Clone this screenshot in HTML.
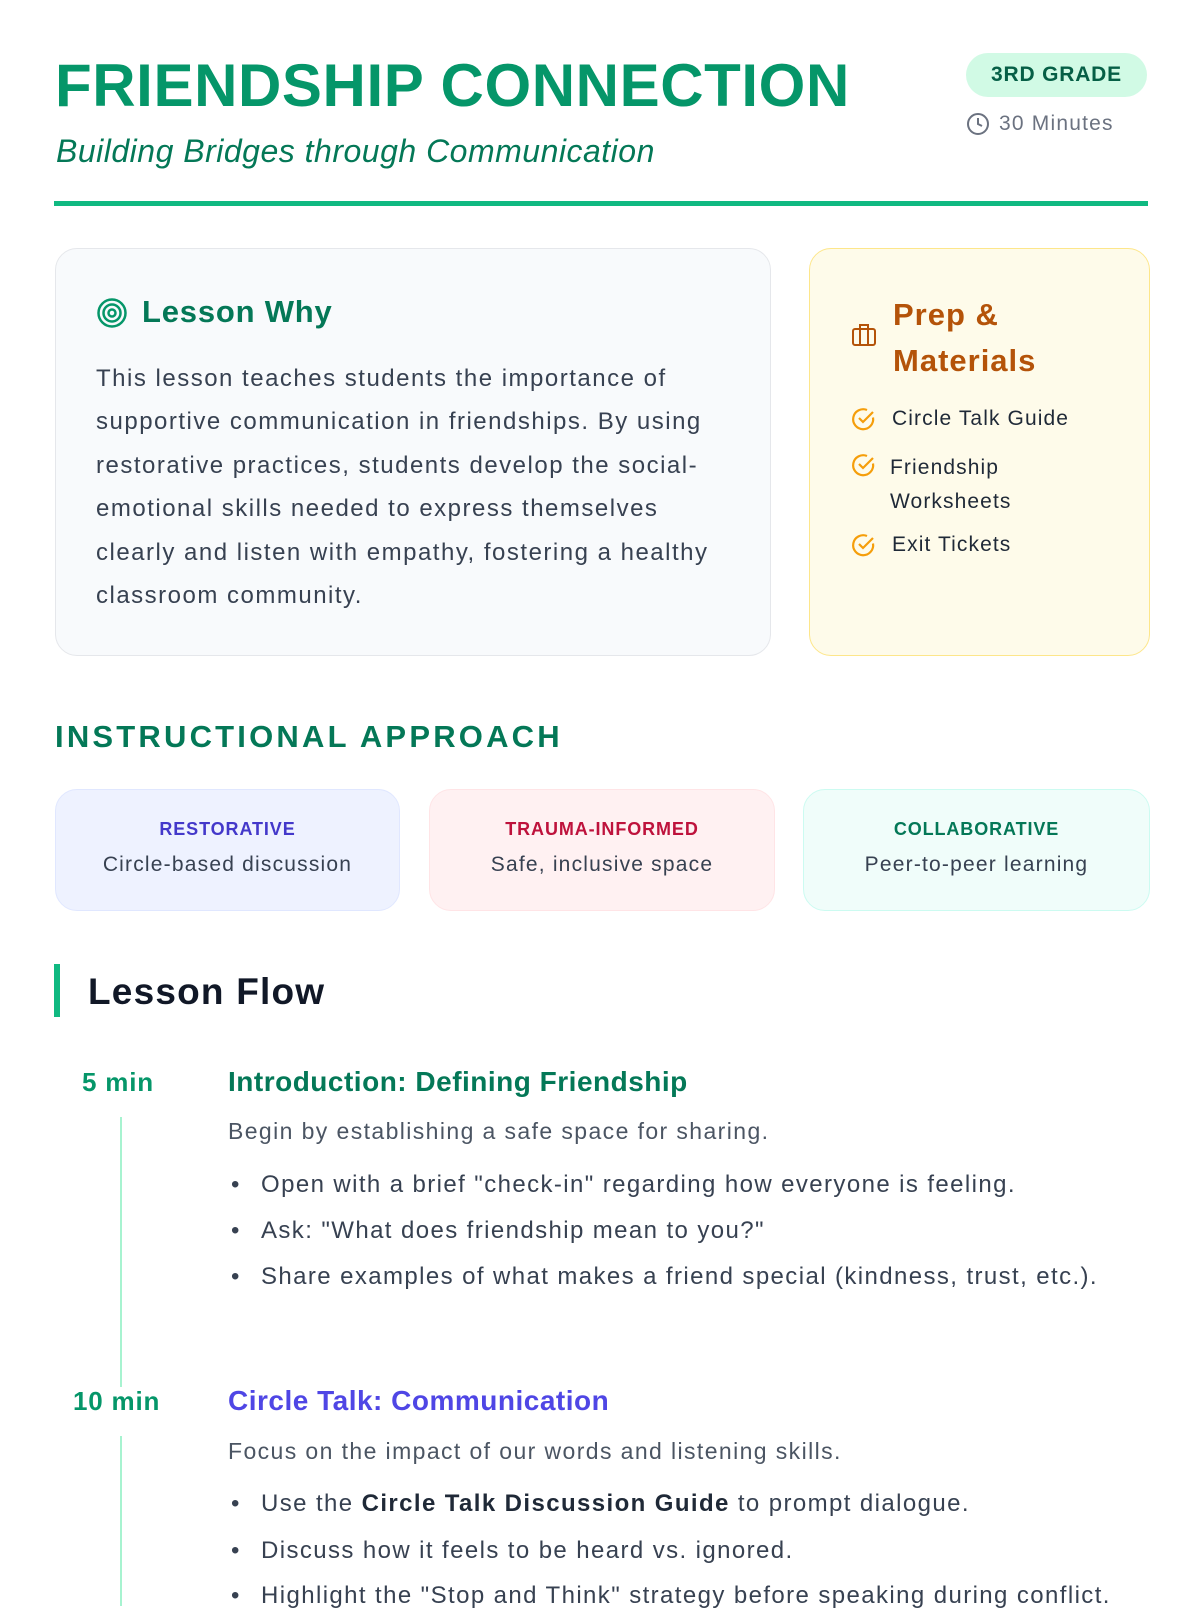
<!DOCTYPE html>
<html><head><meta charset="utf-8"><style>
*{margin:0;padding:0;box-sizing:border-box}
body{width:1200px;height:1600px;background:#fff;position:relative;overflow:hidden;font-family:"Liberation Sans",sans-serif;color:#1f2937}
.a{position:absolute;white-space:nowrap}
.card{position:absolute;border-radius:22px}
.b{letter-spacing:1.4px}
</style></head><body>
<div class="a" style="left:55px;top:55px;font-size:60px;line-height:62px;font-weight:bold;color:#059669;letter-spacing:0.6px">FRIENDSHIP CONNECTION</div>
<div class="a" style="left:56px;top:132px;font-size:32px;line-height:38px;font-style:italic;color:#047857;letter-spacing:0.5px">Building Bridges through Communication</div>
<div class="a" style="left:966px;top:53px;width:181px;height:44px;border-radius:22px;background:#d1fae5;color:#065f46;font-size:21px;font-weight:bold;line-height:44px;text-align:center;letter-spacing:0.8px">3RD GRADE</div>
<svg class="a" style="left:966px;top:112px" width="24" height="24" viewBox="0 0 24 24" fill="none" stroke="#6b7280" stroke-width="2"><circle cx="12" cy="12" r="10"/><path d="M12 6v6l4 2"/></svg>
<div class="a" style="left:999px;top:110px;font-size:21px;line-height:28px;color:#6b7280;letter-spacing:1.2px">30 Minutes</div>
<div class="a" style="left:54px;top:201px;width:1094px;height:5px;background:#10b981"></div>

<div class="card" style="left:55px;top:248px;width:716px;height:408px;background:#f8fafc;border:1.5px solid #e5e7eb"></div>
<svg class="a" style="left:96px;top:297px" width="32" height="32" viewBox="0 0 32 32" fill="none" stroke="#059669" stroke-width="2.5"><circle cx="16" cy="16" r="13.5"/><circle cx="16" cy="16" r="8.5"/><circle cx="16" cy="16" r="3.5"/></svg>
<div class="a" style="left:142px;top:293px;font-size:31px;line-height:38px;font-weight:bold;color:#047857;letter-spacing:0.8px">Lesson Why</div>
<div class="a" style="left:96px;top:357px;font-size:24px;line-height:43.4px;color:#374151;letter-spacing:1.5px">This lesson teaches students the importance of<br>supportive communication in friendships. By using<br>restorative practices, students develop the social-<br>emotional skills needed to express themselves<br>clearly and listen with empathy, fostering a healthy<br>classroom community.</div>

<div class="card" style="left:809px;top:248px;width:341px;height:408px;background:#fefbea;border:1.5px solid #fde68a"></div>
<svg class="a" style="left:851px;top:322px" width="26" height="26" viewBox="0 0 26 26" fill="none" stroke="#b45309" stroke-width="2"><rect x="2" y="7" width="22" height="16" rx="2"/><path d="M9 7V3h8v4M9 7v16M17 7v16"/></svg>
<div class="a" style="left:893px;top:292px;font-size:31px;line-height:46px;font-weight:bold;color:#b45309;letter-spacing:1px">Prep &amp;<br>Materials</div>
<svg class="a" style="left:851px;top:406px" width="26" height="26" viewBox="0 0 26 26" fill="none" stroke="#f59e0b" stroke-width="2.2"><path d="M22 11.5A10 10 0 1 1 16 4"/><path d="M8 12l4 4 10-10"/></svg>
<div class="a" style="left:892px;top:405px;font-size:21px;line-height:28px;color:#1f2937;letter-spacing:1.1px">Circle Talk Guide</div>
<svg class="a" style="left:851px;top:452px" width="26" height="26" viewBox="0 0 26 26" fill="none" stroke="#f59e0b" stroke-width="2.2"><path d="M22 11.5A10 10 0 1 1 16 4"/><path d="M8 12l4 4 10-10"/></svg>
<div class="a" style="left:890px;top:451px;font-size:21px;line-height:34px;color:#1f2937;letter-spacing:1.1px">Friendship<br>Worksheets</div>
<svg class="a" style="left:851px;top:532px" width="26" height="26" viewBox="0 0 26 26" fill="none" stroke="#f59e0b" stroke-width="2.2"><path d="M22 11.5A10 10 0 1 1 16 4"/><path d="M8 12l4 4 10-10"/></svg>
<div class="a" style="left:892px;top:531px;font-size:21px;line-height:28px;color:#1f2937;letter-spacing:1.1px">Exit Tickets</div>

<div class="a" style="left:55px;top:718px;font-size:31px;line-height:38px;font-weight:bold;color:#047857;letter-spacing:3.2px">INSTRUCTIONAL APPROACH</div>
<div class="card" style="left:55px;top:789px;width:345px;height:122px;background:#eef2ff;border:1.5px solid #e0e7ff"></div>
<div class="card" style="left:429px;top:789px;width:346px;height:122px;background:#fff1f2;border:1.5px solid #ffe4e6"></div>
<div class="card" style="left:803px;top:789px;width:347px;height:122px;background:#f0fdfa;border:1.5px solid #ccfbf1"></div>
<div class="a" style="left:55px;width:345px;text-align:center;top:818px;font-size:18px;line-height:22px;font-weight:bold;color:#4338ca;letter-spacing:0.9px">RESTORATIVE</div>
<div class="a" style="left:55px;width:345px;text-align:center;top:852px;font-size:21px;line-height:26px;color:#374151;letter-spacing:1.2px">Circle-based discussion</div>
<div class="a" style="left:429px;width:346px;text-align:center;top:818px;font-size:18px;line-height:22px;font-weight:bold;color:#be123c;letter-spacing:0.9px">TRAUMA-INFORMED</div>
<div class="a" style="left:429px;width:346px;text-align:center;top:852px;font-size:21px;line-height:26px;color:#374151;letter-spacing:1.2px">Safe, inclusive space</div>
<div class="a" style="left:803px;width:347px;text-align:center;top:818px;font-size:18px;line-height:22px;font-weight:bold;color:#047857;letter-spacing:0.9px">COLLABORATIVE</div>
<div class="a" style="left:803px;width:347px;text-align:center;top:852px;font-size:21px;line-height:26px;color:#374151;letter-spacing:1.2px">Peer-to-peer learning</div>

<div class="a" style="left:54px;top:964px;width:6px;height:53px;background:#10b981"></div>
<div class="a" style="left:88px;top:970px;font-size:37px;line-height:44px;font-weight:bold;color:#111827;letter-spacing:1.2px">Lesson Flow</div>

<div class="a" style="left:82px;top:1066px;font-size:26px;line-height:32px;font-weight:bold;color:#059669;letter-spacing:0.8px">5 min</div>
<div class="a" style="left:120px;top:1117px;width:2px;height:270px;background:#a7f3d0"></div>
<div class="a" style="left:228px;top:1065px;font-size:28px;line-height:34px;font-weight:bold;color:#047857;letter-spacing:0.5px">Introduction: Defining Friendship</div>
<div class="a b" style="left:228px;top:1117px;font-size:23px;line-height:28px;color:#4b5563">Begin by establishing a safe space for sharing.</div>
<div class="a b" style="left:231px;top:1171px;font-size:24px;line-height:28px;color:#374151">•<span style="position:absolute;left:30px">Open with a brief "check-in" regarding how everyone is feeling.</span></div>
<div class="a b" style="left:231px;top:1217px;font-size:24px;line-height:28px;color:#374151">•<span style="position:absolute;left:30px">Ask: "What does friendship mean to you?"</span></div>
<div class="a b" style="left:231px;top:1263px;font-size:24px;line-height:28px;color:#374151">•<span style="position:absolute;left:30px">Share examples of what makes a friend special (kindness, trust, etc.).</span></div>

<div class="a" style="left:73px;top:1385px;font-size:26px;line-height:32px;font-weight:bold;color:#059669;letter-spacing:0.8px">10 min</div>
<div class="a" style="left:120px;top:1436px;width:2px;height:170px;background:#a7f3d0"></div>
<div class="a" style="left:228px;top:1384px;font-size:28px;line-height:34px;font-weight:bold;color:#4f46e5;letter-spacing:0.5px">Circle Talk: Communication</div>
<div class="a b" style="left:228px;top:1437px;font-size:23px;line-height:28px;color:#4b5563">Focus on the impact of our words and listening skills.</div>
<div class="a b" style="left:231px;top:1490px;font-size:24px;line-height:28px;color:#374151">•<span style="position:absolute;left:30px">Use the <b style="color:#1f2937">Circle Talk Discussion Guide</b> to prompt dialogue.</span></div>
<div class="a b" style="left:231px;top:1537px;font-size:24px;line-height:28px;color:#374151">•<span style="position:absolute;left:30px">Discuss how it feels to be heard vs. ignored.</span></div>
<div class="a b" style="left:231px;top:1582px;font-size:24px;line-height:28px;color:#374151">•<span style="position:absolute;left:30px">Highlight the "Stop and Think" strategy before speaking during conflict.</span></div>
</body></html>
